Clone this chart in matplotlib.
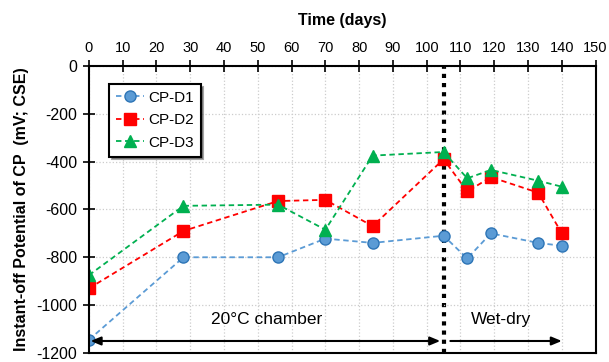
import matplotlib.pyplot as plt
import numpy as np

plt.rcParams['font.family'] = ['Liberation Sans', 'DejaVu Sans']
plt.rcParams['axes.unicode_minus'] = False

days = [0, 28, 56, 70, 84, 105, 112, 119, 133, 140]
cp_d1 = [-1145, -800, -800, -722, -740, -710, -805, -700, -740, -752]
cp_d2 = [-930, -690, -565, -560, -670, -390, -525, -465, -530, -700]
cp_d3 = [-875, -585, -580, -685, -375, -360, -470, -435, -480, -505]

fig = plt.figure(figsize=(6.09, 3.62), dpi=100)
ax = fig.add_axes([0.146, 0.025, 0.832, 0.793])

ax.plot(days, cp_d1, 'o', ls=(0, (3, 2)), color='#5B9BD5', mfc='#5B9BD5',
        mec='#2E75B6', markersize=8, lw=1.3, label='CP-D1')
ax.plot(days, cp_d2, 's', ls=(0, (3, 2)), color='#FF0000', mfc='#FF0000',
        mec='#FF0000', markersize=8, lw=1.3, label='CP-D2')
ax.plot(days, cp_d3, '^', ls=(0, (3, 2)), color='#00B050', mfc='#00B050',
        mec='#00B050', markersize=8, lw=1.3, label='CP-D3')

# change of exposure
ax.axvline(105, color='black', ls=(0, (1, 1.2)), lw=3, zorder=1)

# period arrows
ax.annotate('', xy=(104, -1150), xytext=(0.5, -1150),
            arrowprops=dict(arrowstyle='<|-|>,head_length=0.6,head_width=0.25',
                            color='black', lw=1.5, shrinkA=0, shrinkB=0))
ax.annotate('', xy=(140, -1150), xytext=(107, -1150),
            arrowprops=dict(arrowstyle='-|>,head_length=0.6,head_width=0.25',
                            color='black', lw=1.5, shrinkA=0, shrinkB=0))
ax.text(52.5, -1060, '20°C chamber', ha='center', va='center', fontsize=12.5)
ax.text(122, -1060, 'Wet-dry', ha='center', va='center', fontsize=12.5)

ax.set_xlim(0, 150)
ax.set_ylim(-1200, 0)
ax.set_xticks(np.arange(0, 151, 10))
ax.set_yticks(np.arange(-1200, 1, 200))
ax.xaxis.tick_top()
ax.xaxis.set_label_position('top')
ax.tick_params(direction='inout', length=9, width=1.2, labelsize=10.5)
ax.tick_params(axis='y', pad=4, labelsize=11.5)
ax.set_xlabel('Time (days)', fontweight='bold', fontsize=11.5, labelpad=11)
ax.set_ylabel('Instant-off Potential of CP  (mV; CSE)', fontweight='bold',
              fontsize=11.5, labelpad=5)
ax.grid(True, ls=':', color='#cccccc', lw=0.9)
for sp in ax.spines.values():
    sp.set_linewidth(1.5)

leg = ax.legend(loc='upper left', bbox_to_anchor=(0.04, 0.937), fontsize=11,
                frameon=True, fancybox=False, shadow=True, edgecolor='black',
                handlelength=1.8, handletextpad=0.3, borderpad=0.45,
                labelspacing=0.55, framealpha=1, borderaxespad=0)
leg.get_frame().set_linewidth(1.5)

plt.savefig('out.png', dpi=100)
